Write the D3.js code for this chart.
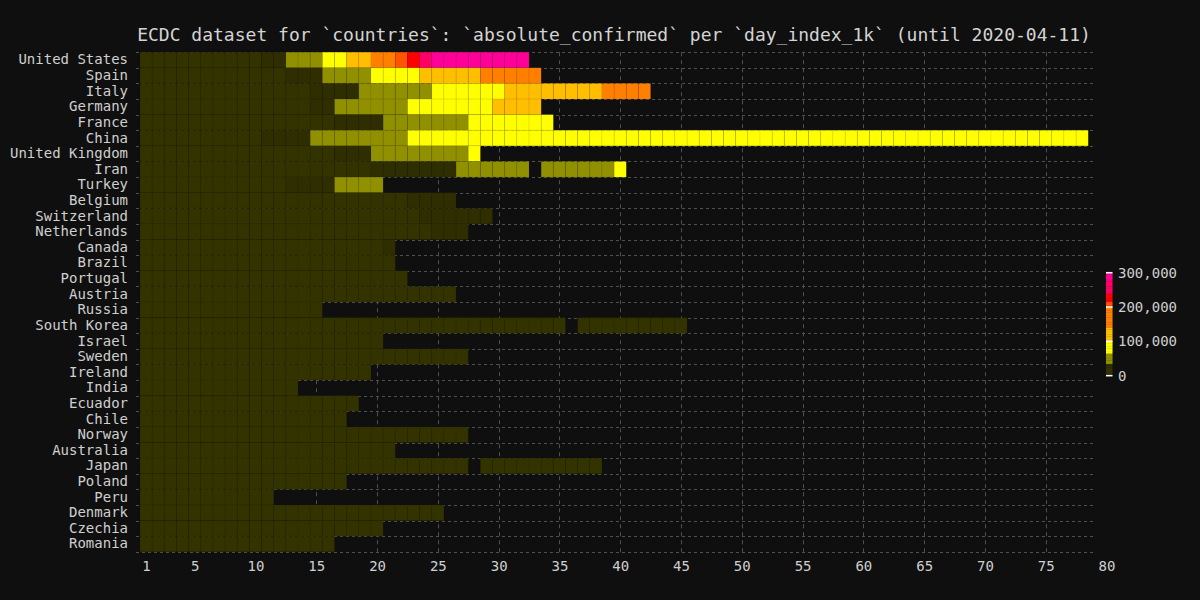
<!DOCTYPE html>
<html><head><meta charset="utf-8">
<script src="https://cdn.jsdelivr.net/npm/d3@7"></script>
<style>
html,body{margin:0;padding:0;background:#0f0f0f;}
svg{display:block;}
</style></head>
<body>
<svg id="chart" width="1200" height="600"></svg>
<script>
// ---- data (absolute confirmed, thousands; one value per day_index_1k, null = missing day) ----
const countries = ["United States","Spain","Italy","Germany","France","China","United Kingdom","Iran","Turkey","Belgium","Switzerland","Netherlands","Canada","Brazil","Portugal","Austria","Russia","South Korea","Israel","Sweden","Ireland","India","Ecuador","Chile","Norway","Australia","Japan","Poland","Peru","Denmark","Czechia","Romania"];
const unitedStates = [1.3,1.7,2.2,2.7,3.5,4.6,6.4,7.8,13.7,19.4,24.1,33.3,43.7,53.7,64.0,83.8,99.0,121,139,161,186,213,239,277,304,334,364,396,429,462,496,529];
const spain = [1.2,1.6,2.1,3.0,4.2,5.8,7.8,9.2,11.2,13.7,17.1,19.9,24.9,28.6,33.1,39.7,47.6,56.2,64.0,72.2,78.8,85.2,94.4,102,110,117,124,131,141,146,153,158,162];
const italy = [1.1,1.7,2.0,2.5,3.1,3.9,4.6,5.9,7.4,9.2,10.1,12.5,15.1,17.7,21.2,24.7,27.9,31.5,38.0,41.0,47.0,53.6,59.0,63.9,69,74,80,86,92,97.7,101.7,105.8,110.6,115.2,119.8,124.6,128.9,135.6,140.5,143.6,147.6,152.3];
const germany = [1.1,1.2,1.6,2.4,2.7,3.7,4.6,5.8,6.0,7.2,9.3,12.3,15.3,19.8,22.2,24.9,37.3,43.9,49.6,57.3,58.2,62.1,67.4,71.8,77.9,84.8,91.2,95.4,96.1,100.1,103.4,108.2,113.3];
const france = [1.1,1.4,1.8,2.3,2.9,3.7,4.5,5.4,6.6,7.7,9.1,10.9,12.6,14.5,16.0,19.9,22.3,25.2,29.2,32.9,37.6,40.2,44.6,52.1,56.9,59.1,64.3,68.6,70.5,74.4,78.2,82.0,86.3,90.7];
const china = [1.3,2.0,2.8,4.5,6.0,7.7,9.7,11.8,14.4,17.2,20.4,24.4,28.0,31.2,
  37.2,40.2,42.7,44.7,46.6,48.5,59.8,63.9,
  66.5,68.5,70.5,72.4,74.2,74.7,75.5,76.3,
  77.2,77.8,78.2,78.6,78.9,79.4,79.9,80.2,
  80.4,80.6,80.7,80.8,80.8,80.9,80.9,81.0,
  81.0,81.1,81.1,81.1,81.2,81.2,81.3,81.3,
  81.4,81.5,81.6,81.7,81.8,81.9,82.0,82.2,
  82.3,82.4,82.5,82.6,82.7,82.8,82.9,83.0,
  83.1,83.2,83.3,83.4,83.5,83.6,83.7,83.8];
const unitedKingdom = [1.1,1.4,1.5,1.9,2.6,3.3,4.0,5.0,5.7,6.7,8.1,9.5,11.7,14.5,17.1,19.5,22.1,25.2,29.5,38.2,41.9,47.8,51.6,55.2,60.7,63.1,64.9,70.3];
const iran = [1.5,2.3,2.9,3.5,4.7,5.8,6.6,7.2,8.0,9.0,10.1,11.4,12.7,14.0,15.0,16.2,17.4,18.4,19.6,20.6,21.6,23.0,24.8,27.0,29.4,32.3,37.1,38.3,41.5,44.6,47.6,50.5,null,53.2,55.7,58.2,60.5,62.6,64.6,66.2];
const turkey = [1.2,1.5,1.9,2.4,3.6,5.7,7.4,9.2,10.8,13.5,15.7,18.1,20.9,23.9,27.1,30.2,38.2,42.3,47.0,52.2];
const belgium = [1.1,1.2,1.5,1.8,2.3,2.8,3.4,3.7,4.3,4.9,6.2,7.3,8.0,9.1,10.8,11.9,12.8,13.9,15.3,16.8,18.4,19.7,20.8,22.2,23.4,24.9];
const switzerland = [1.1,1.4,2.2,2.3,2.7,3.0,4.2,5.3,6.1,7.0,7.5,8.8,9.8,10.9,11.8,12.9,14.1,14.8,15.9,16.6,17.8,18.8,19.6,20.3,21.1,21.7,22.3,23.0,24.3];
const netherlands = [1.1,1.4,1.7,2.1,2.5,3.0,3.6,4.2,4.7,5.6,6.4,7.4,8.6,9.8,10.9,11.8,12.6,13.6,14.7,15.7,16.6,17.9,18.8,19.6,20.5,21.8,23.1];
const canada = [1.1,1.4,1.7,2.1,2.8,3.4,4.0,4.7,5.6,6.3,7.4,8.5,9.6,11.3,12.5,14.0,15.8,17.0,18.4,19.8,21.2];
const brazil = [1.2,1.5,1.9,2.2,2.4,2.9,3.4,3.9,4.3,4.6,5.7,6.8,7.9,9.1,10.3,11.1,12.1,13.7,15.9,17.9,19.6];
const portugal = [1.0,1.3,1.6,2.1,2.4,3.0,3.5,4.3,5.2,5.9,6.4,7.4,8.3,9.0,9.9,10.5,11.3,11.7,12.4,13.1,13.9,15.5];
const austria = [1.0,1.3,1.6,2.0,2.4,2.8,3.2,3.6,4.5,5.3,5.9,7.0,7.7,8.3,8.8,9.6,10.2,10.7,11.1,11.5,11.8,12.1,12.3,12.6,12.9,13.2];
const russia = [1.0,1.3,1.5,1.8,2.3,2.8,3.5,4.1,4.7,5.4,6.3,7.5,8.7,10.1,11.9];
const southKorea = [1.3,1.8,2.3,2.9,3.5,4.2,4.8,5.3,5.8,6.3,6.8,7.1,7.3,7.5,7.5,7.7,7.9,8.0,8.1,8.2,8.3,8.4,8.6,8.7,8.8,8.9,9.0,9.1,9.2,9.3,9.5,9.6,9.7,9.8,9.9,null,10.1,10.2,10.3,10.3,10.4,10.4,10.4,10.5,10.5];
const israel = [1.0,1.2,1.7,2.0,2.4,2.7,3.0,3.6,4.2,4.7,5.4,6.1,6.9,7.6,8.4,8.9,9.2,9.4,9.8,10.4];
const sweden = [1.0,1.1,1.2,1.3,1.4,1.6,1.7,1.9,2.0,2.2,2.5,2.8,3.1,3.4,3.7,4.0,4.4,4.9,5.5,6.1,6.4,6.8,7.2,7.7,8.4,9.1,9.7];
const ireland = [1.1,1.3,1.6,1.8,2.1,2.4,2.6,2.9,3.2,3.4,3.8,4.3,4.6,5.1,5.4,5.7,6.1,6.6,7.1];
const india = [1.1,1.3,1.6,1.8,2.1,2.5,3.1,3.6,4.3,5.0,5.9,6.8,7.4];
const ecuador = [1.1,1.4,1.6,1.8,2.0,2.2,2.3,2.8,3.2,3.4,3.6,3.7,4.0,4.5,4.9,5.2,6.8,7.2];
const chile = [1.1,1.3,1.6,1.9,2.1,2.4,2.7,3.0,3.4,3.7,4.2,4.5,4.8,5.1,5.5,5.9,6.5];
const norway = [1.1,1.2,1.3,1.4,1.6,1.8,1.9,2.1,2.4,2.6,2.9,3.1,3.4,3.8,4.0,4.3,4.5,4.7,5.0,5.2,5.4,5.6,5.8,5.9,6.1,6.2,6.4];
const australia = [1.1,1.3,1.4,1.7,2.1,2.4,2.8,3.2,3.6,3.8,4.2,4.6,4.8,5.0,5.1,5.2,5.4,5.5,5.7,5.8,6.0];
const japan = [1.0,1.1,1.1,1.2,1.2,1.3,1.4,1.4,1.5,1.5,1.6,1.7,1.7,1.7,1.7,1.8,1.9,2.0,2.1,2.2,2.3,2.4,2.6,2.8,3.1,3.3,3.5,null,3.9,4.3,4.5,4.8,5.3,5.5,6.0,6.0,6.7,6.7];
const poland = [1.1,1.2,1.4,1.6,1.9,2.1,2.3,2.6,2.9,3.4,3.6,4.1,4.4,4.8,5.2,5.6,6.0];
const peru = [1.1,1.3,1.4,1.6,1.7,2.3,2.6,2.9,4.3,5.3,5.9];
const denmark = [1.0,1.1,1.2,1.3,1.4,1.5,1.6,1.8,2.0,2.2,2.4,2.6,2.9,3.1,3.4,3.8,4.1,4.4,4.7,5.0,5.4,5.6,5.8,6.0,6.2];
const czechia = [1.0,1.1,1.2,1.4,1.6,1.8,2.1,2.3,2.6,2.8,3.0,3.3,3.6,4.0,4.2,4.5,4.6,5.0,5.3,5.6];
const romania = [1.0,1.3,1.5,1.8,2.1,2.2,2.5,3.0,3.2,3.6,4.0,4.4,4.8,5.2,5.5,5.9];

const series = [unitedStates,spain,italy,germany,france,china,unitedKingdom,iran,turkey,belgium,switzerland,netherlands,canada,brazil,portugal,austria,russia,southKorea,israel,sweden,ireland,india,ecuador,chile,norway,australia,japan,poland,peru,denmark,czechia,romania];

const xTicks = [1,5,10,15,20,25,30,35,40,45,50,55,60,65,70,75,80];
const legendTicks = [0,100000,200000,300000];
const colorThresholds = [20000,37000,65000,100000,140000,200000,215000,240000,280000];
const colorRange = ["#333300","#2e2e00","#909000","#ffff00","#ffbf00","#ff8000","#ff5500","#ff0000","#ff0066","#ff0099"];
const titleText = "ECDC dataset for `countries`: `absolute_confirmed` per `day_index_1k` (until 2020-04-11)";

// ---- drawing ----
const svg = d3.select("#chart");
const FONT = "'DejaVu Sans Mono', 'Liberation Mono', monospace";
const TXT = "#cfcfcf";
svg.append("rect").attr("width",1200).attr("height",600).attr("fill","#0f0f0f");

const dayW = 12.157;
const x = d3.scaleLinear().domain([0.5, 80.5]).range([140, 140 + 80*dayW]);
const plotRight = x(79);
const y = d3.scaleBand().domain(countries).range([52.2, 52.2 + 32*15.6125]).padding(0);
const color = d3.scaleThreshold().domain(colorThresholds).range(colorRange);

// grid
const GRID = "#505050";
const grid = svg.append("g");
grid.selectAll("line.h").data(countries).enter().append("line")
  .attr("x1",136).attr("x2",plotRight)
  .attr("y1",d=>Math.round(y(d))+0.5).attr("y2",d=>Math.round(y(d))+0.5)
  .attr("stroke",GRID).attr("stroke-dasharray","3,3");
grid.append("line")
  .attr("x1",136).attr("x2",plotRight)
  .attr("y1",Math.round(y.range()[1])+0.5).attr("y2",Math.round(y.range()[1])+0.5)
  .attr("stroke",GRID).attr("stroke-dasharray","3,3");
grid.selectAll("line.v").data(xTicks.filter(t=>x(t)<plotRight)).enter().append("line")
  .attr("x1",d=>Math.round(x(d))+0.5).attr("x2",d=>Math.round(x(d))+0.5)
  .attr("y1",y.range()[0]).attr("y2",y.range()[1]+1)
  .attr("stroke",GRID).attr("stroke-dasharray","4,4");

// cells
const cells = [];
series.forEach((vals,i)=>{
  vals.forEach((v,j)=>{ if(v!==null) cells.push({c:countries[i], d:j+1, v:v*1000}); });
});
svg.append("g").selectAll("rect").data(cells).enter().append("rect")
  .attr("x",d=>x(d.d-0.5)).attr("width",dayW)
  .attr("y",d=>y(d.c)).attr("height",y.bandwidth())
  .attr("fill",d=>color(d.v))
  .attr("stroke","rgba(0,0,0,0.06)").attr("stroke-width",1);

// y labels
const yAxis = d3.axisLeft(y).tickSize(0).tickPadding(0);
const gy = svg.append("g").attr("transform","translate(128,0)").call(yAxis);
gy.select(".domain").remove();
gy.selectAll("text").attr("fill",TXT).style("font-family",FONT).style("font-size","14px").attr("dy","0.32em");

// x labels
const xAxis = d3.axisBottom(x).tickValues(xTicks).tickSize(0).tickPadding(0);
const gx = svg.append("g").attr("transform","translate(0,561)").call(xAxis);
gx.select(".domain").remove();
gx.selectAll("text").attr("fill",TXT).style("font-family",FONT).style("font-size","14px").attr("dy","0.71em");

// title
svg.append("text").attr("x",614).attr("y",41).attr("text-anchor","middle")
  .attr("fill","#d4d4d4").style("font-family",FONT).style("font-size","18px").text(titleText);

// legend
const ly = d3.scaleLinear().domain([0,300000]).range([375.7,272.7]);
const steps = d3.range(0,300000,5000);
const lg = svg.append("g");
lg.selectAll("rect").data(steps).enter().append("rect")
  .attr("x",1106).attr("width",6.5)
  .attr("y",d=>ly(d+5000)).attr("height",d=>ly(d)-ly(d+5000)+0.3)
  .attr("fill",d=>color(d+2500));
lg.selectAll("line").data(legendTicks).enter().append("line")
  .attr("x1",1106).attr("x2",1112.5)
  .attr("y1",d=>ly(d)).attr("y2",d=>ly(d))
  .attr("stroke","#ffffff").attr("stroke-width",1.5);
const fmt = d3.format(",");
lg.selectAll("text").data(legendTicks).enter().append("text")
  .attr("x",1118).attr("y",d=>ly(d)).attr("dy","0.35em")
  .attr("fill",TXT).style("font-family",FONT).style("font-size","14px")
  .text(d=>fmt(d));
</script>
</body></html>
